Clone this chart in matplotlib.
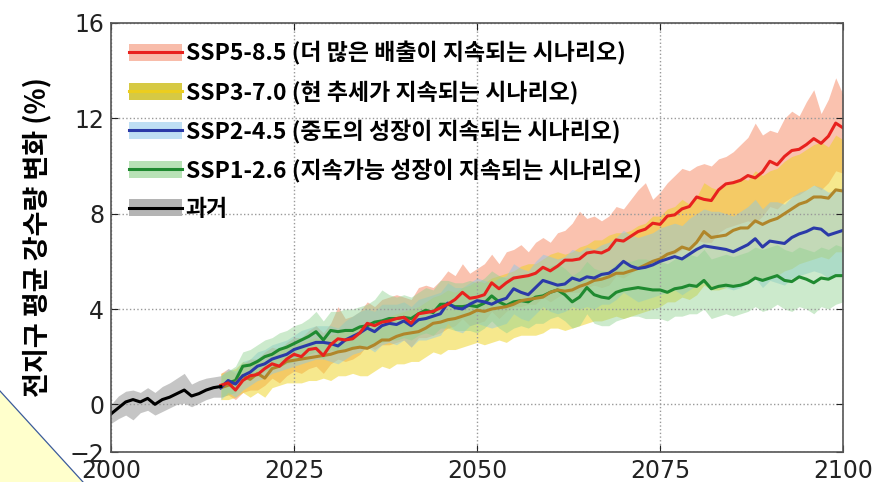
import numpy as np
import matplotlib
matplotlib.use("Agg")
import matplotlib.pyplot as plt
from matplotlib.patches import Patch, Polygon
from matplotlib.lines import Line2D

plt.rcParams['font.family'] = ['Noto Sans CJK KR', 'DejaVu Sans']

# ---- data -------------------------------------------------------------
hist_years = list(range(2000, 2016))
hist_mean = [-0.4, -0.15, 0.1, 0.2, 0.1, 0.25, 0.0, 0.2, 0.3, 0.45,
             0.6, 0.35, 0.45, 0.6, 0.7, 0.75]
hist_lo = [-0.8, -0.6, -0.45, -0.65, -0.35, -0.25, -0.45, -0.3, -0.15, 0.0,
           0.05, -0.1, 0.05, 0.2, 0.3, 0.3]
hist_hi = [0.0, 0.35, 0.55, 0.6, 0.5, 0.7, 0.5, 0.75, 0.9, 1.1,
           1.3, 0.85, 1.0, 1.1, 1.15, 1.2]

years = list(range(2015, 2101))

ssp585_mean = [0.8, 0.9, 0.6, 1.0, 1.2, 1.25, 1.5, 1.7, 1.6, 1.9,
               2.1, 2.0, 2.3, 2.35, 2.05, 2.5, 2.75, 2.7, 2.75, 3.0,
               3.4, 3.3, 3.45, 3.5, 3.6, 3.65, 3.4, 3.8, 3.85, 3.9,
               4.05, 4.2, 4.4, 4.7, 4.45, 4.5, 4.6, 5.1, 4.85, 5.1,
               5.3, 5.35, 5.4, 5.5, 5.75, 5.6, 5.8, 6.05, 6.05, 6.1,
               6.35, 6.4, 6.35, 6.5, 6.9, 6.85, 7.05, 7.25, 7.35, 7.6,
               7.55, 7.9, 7.95, 8.2, 8.3, 8.7, 8.6, 8.55, 9.0, 9.25,
               9.3, 9.4, 9.6, 9.5, 9.75, 10.2, 10.05, 10.4, 10.65, 10.7,
               10.9, 11.15, 10.95, 11.25, 11.8, 11.6]
ssp585_lo = [0.3, 0.4, 0.2, 0.5, 0.6, 0.6, 0.8, 1.1, 0.9, 1.2,
             1.4, 1.3, 1.5, 1.6, 1.3, 1.7, 1.9, 1.8, 1.9, 2.1,
             2.5, 2.3, 2.5, 2.5, 2.6, 2.7, 2.4, 2.8, 2.8, 2.9,
             3.0, 3.2, 3.3, 3.6, 3.3, 3.4, 3.5, 3.9, 3.6, 3.9,
             4.1, 4.1, 4.2, 4.2, 4.5, 4.3, 4.5, 4.7, 4.7, 4.7,
             4.9, 5.0, 4.9, 5.0, 5.4, 5.3, 5.5, 5.7, 5.7, 6.0,
             5.9, 6.2, 6.3, 6.5, 6.6, 6.9, 6.8, 6.8, 7.2, 7.4,
             7.5, 7.6, 7.7, 7.6, 7.9, 8.3, 8.2, 8.5, 8.7, 8.8,
             9.0, 9.2, 9.0, 9.3, 9.8, 9.7]
ssp585_hi = [1.3, 1.5, 1.3, 1.7, 1.9, 1.9, 2.2, 2.4, 2.3, 2.6,
             2.8, 2.8, 3.1, 3.3, 3.0, 3.4, 4.1, 3.6, 3.7, 3.9,
             4.3, 4.1, 4.4, 4.5, 4.6, 4.5, 4.4, 4.9, 5.0, 4.9,
             5.2, 5.6, 5.4, 5.9, 5.5, 5.7, 5.9, 6.3, 5.9, 6.4,
             6.5, 6.7, 6.4, 6.8, 7.0, 6.8, 7.2, 7.3, 7.6, 8.1,
             7.8, 7.9, 7.7, 7.9, 8.3, 8.2, 8.6, 9.0, 9.3, 8.6,
             8.9, 9.3, 9.6, 9.9, 9.8, 10.0, 10.1, 10.0, 10.3, 10.4,
             10.6, 10.9, 11.2, 11.8, 11.3, 11.5, 11.4, 12.0, 12.3, 12.1,
             12.7, 13.2, 12.2, 12.8, 13.7, 13.0]

ssp370_mean = [0.7, 0.8, 0.9, 1.2, 1.05, 1.3, 1.1, 1.5, 1.6, 1.8,
               1.85, 1.9, 1.95, 2.0, 2.05, 2.1, 2.2, 2.25, 2.35, 2.4,
               2.35, 2.5, 2.7, 2.7, 2.85, 2.95, 3.0, 3.05, 3.2, 3.4,
               3.45, 3.55, 3.6, 3.7, 3.8, 3.95, 3.9, 4.0, 4.05, 4.1,
               4.2, 4.35, 4.4, 4.45, 4.5, 4.7, 4.8, 4.75, 4.8, 4.95,
               5.05, 5.2, 5.25, 5.35, 5.5, 5.5, 5.6, 5.7, 5.85, 6.0,
               6.1, 6.3, 6.4, 6.6, 6.5, 6.8, 7.25, 7.0, 7.05, 7.1,
               7.3, 7.4, 7.4, 7.7, 7.55, 7.7, 7.8, 8.0, 8.2, 8.4,
               8.5, 8.7, 8.7, 8.65, 9.0, 8.95]
ssp370_lo = [0.2, 0.2, 0.3, 0.5, 0.3, 0.5, 0.3, 0.7, 0.8, 0.9,
             0.9, 0.9, 1.0, 1.0, 1.1, 1.0, 1.2, 1.2, 1.3, 1.2,
             1.2, 1.4, 1.6, 1.5, 1.7, 1.7, 1.8, 1.8, 2.0, 2.2,
             2.1, 2.3, 2.3, 2.4, 2.5, 2.6, 2.5, 2.6, 2.7, 2.6,
             2.8, 2.9, 2.9, 2.9, 3.0, 3.2, 3.2, 3.1, 3.2, 3.3,
             3.4, 3.5, 3.5, 3.6, 3.7, 3.6, 3.7, 3.8, 3.9, 4.0,
             4.1, 4.3, 4.3, 4.5, 4.4, 4.6, 5.0, 4.8, 4.8, 4.9,
             5.0, 5.1, 5.1, 5.3, 5.2, 5.3, 5.4, 5.6, 5.7, 5.9,
             6.0, 6.1, 6.2, 6.1, 6.4, 6.4]
ssp370_hi = [1.3, 1.4, 1.5, 1.8, 1.7, 1.9, 1.8, 2.1, 2.3, 2.4,
             2.5, 2.6, 2.7, 2.8, 2.7, 2.9, 3.0, 3.1, 3.2, 3.3,
             3.3, 3.5, 3.6, 3.7, 3.8, 3.9, 4.0, 4.1, 4.3, 4.5,
             4.6, 4.8, 4.7, 4.9, 5.0, 5.2, 5.1, 5.3, 5.4, 5.5,
             5.6, 5.8, 5.9, 5.9, 6.1, 6.3, 6.4, 6.3, 6.4, 6.6,
             6.7, 6.9, 6.9, 7.1, 7.2, 7.2, 7.3, 7.5, 7.6, 7.9,
             7.9, 8.2, 8.3, 8.6, 8.4, 8.7, 9.3, 9.1, 9.0, 9.2,
             9.4, 9.5, 9.4, 9.8, 9.6, 9.8, 9.9, 10.2, 10.4, 10.5,
             10.7, 10.9, 11.0, 10.8, 11.3, 11.1]

ssp245_mean = [0.7, 1.0, 0.85, 1.2, 1.35, 1.6, 1.7, 1.9, 2.0, 2.1,
               2.3, 2.4, 2.5, 2.6, 2.6, 2.55, 2.45, 2.7, 2.85, 3.0,
               3.2, 3.05, 3.3, 3.4, 3.35, 3.5, 3.3, 3.55, 3.6, 3.7,
               3.8, 4.25, 4.05, 4.0, 4.2, 4.35, 4.3, 4.2, 4.35, 4.45,
               4.85, 4.7, 4.6, 4.9, 5.2, 5.1, 5.0, 5.05, 5.3, 5.2,
               5.35, 5.3, 5.45, 5.5, 5.7, 6.0, 5.8, 5.7, 5.75, 5.85,
               6.0, 6.1, 6.2, 6.1, 6.3, 6.5, 6.65, 6.6, 6.55, 6.5,
               6.4, 6.55, 6.7, 6.95, 6.6, 6.85, 6.8, 6.75, 7.0, 7.15,
               7.25, 7.4, 7.35, 7.1, 7.2, 7.3]
ssp245_lo = [0.2, 0.5, 0.3, 0.6, 0.8, 1.0, 1.1, 1.3, 1.4, 1.5,
             1.6, 1.7, 1.8, 1.9, 1.9, 1.8, 1.7, 1.9, 2.1, 2.2,
             2.4, 2.2, 2.5, 2.6, 2.5, 2.7, 2.4, 2.7, 2.7, 2.8,
             2.9, 3.4, 3.1, 3.0, 3.3, 3.4, 3.3, 3.2, 3.3, 3.4,
             3.8, 3.6, 3.5, 3.8, 4.1, 3.9, 3.8, 3.9, 4.1, 4.0,
             4.1, 4.0, 4.2, 4.2, 4.4, 4.7, 4.5, 4.3, 4.4, 4.5,
             4.6, 4.7, 4.8, 4.6, 4.8, 5.0, 5.1, 5.0, 4.9, 4.9,
             4.8, 4.9, 5.1, 5.3, 4.9, 5.2, 5.1, 5.0, 5.3, 5.4,
             5.5, 5.6, 5.5, 5.3, 5.4, 5.5]
ssp245_hi = [1.2, 1.5, 1.4, 1.8, 1.9, 2.2, 2.3, 2.5, 2.6, 2.7,
             2.9, 3.1, 3.2, 3.3, 3.3, 3.3, 3.2, 3.5, 3.7, 3.9,
             4.0, 3.9, 4.2, 4.2, 4.2, 4.3, 4.1, 4.4, 4.5, 4.6,
             4.7, 5.1, 4.9, 4.9, 5.1, 5.3, 5.2, 5.1, 5.3, 5.4,
             5.9, 5.7, 5.6, 6.0, 6.3, 6.2, 6.1, 6.2, 6.5, 6.4,
             6.6, 6.5, 6.7, 6.8, 7.0, 7.3, 7.1, 7.0, 7.1, 7.2,
             7.4, 7.5, 7.6, 7.5, 7.8, 8.0, 8.2, 8.1, 8.1, 8.0,
             7.9, 8.1, 8.3, 8.6, 8.2, 8.5, 8.5, 8.4, 8.7, 8.9,
             9.0, 9.2, 9.1, 8.9, 9.0, 9.1]

ssp126_mean = [0.7, 0.9, 1.0, 1.6, 1.65, 1.8, 2.0, 2.1, 2.3, 2.4,
               2.55, 2.7, 2.85, 3.05, 2.7, 3.1, 3.05, 3.1, 3.1, 3.25,
               3.3, 3.45, 3.5, 3.6, 3.6, 3.65, 3.6, 3.8, 3.95, 3.85,
               4.2, 4.2, 4.1, 4.1, 4.15, 4.1, 4.25, 4.55, 4.3, 4.15,
               4.3, 4.35, 4.3, 4.5, 4.55, 4.7, 4.8, 4.6, 4.3, 4.5,
               4.9, 4.6, 4.5, 4.45, 4.7, 4.8, 4.85, 4.9, 4.85, 4.8,
               4.8, 4.7, 4.85, 4.9, 5.0, 4.95, 5.2, 4.85, 4.95, 5.0,
               4.95, 5.0, 5.1, 5.3, 5.2, 5.3, 5.4, 5.2, 5.15, 5.35,
               5.25, 5.1, 5.3, 5.25, 5.4, 5.4]
ssp126_lo = [0.3, 0.4, 0.5, 1.0, 1.1, 1.2, 1.4, 1.5, 1.6, 1.7,
             1.8, 1.9, 2.1, 2.2, 1.9, 2.3, 2.2, 2.3, 2.3, 2.4,
             2.4, 2.6, 2.6, 2.7, 2.7, 2.8, 2.7, 2.9, 3.0, 2.9,
             3.2, 3.2, 3.1, 3.1, 3.1, 3.0, 3.2, 3.5, 3.2, 3.0,
             3.2, 3.3, 3.2, 3.4, 3.4, 3.6, 3.7, 3.5, 3.2, 3.3,
             3.8, 3.4, 3.3, 3.3, 3.5, 3.6, 3.7, 3.7, 3.6, 3.6,
             3.6, 3.5, 3.7, 3.7, 3.8, 3.8, 4.0, 3.6, 3.7, 3.8,
             3.7, 3.8, 3.9, 4.1, 3.9, 4.0, 4.2, 4.0, 3.9, 4.1,
             4.0, 3.8, 4.1, 4.0, 4.2, 4.3]
ssp126_hi = [1.2, 1.4, 1.6, 2.2, 2.3, 2.5, 2.7, 2.8, 3.0, 3.1,
             3.3, 3.4, 3.6, 3.9, 3.5, 3.9, 3.9, 4.0, 4.0, 4.1,
             4.2, 4.4, 4.8, 4.6, 4.5, 4.6, 4.5, 4.7, 4.9, 4.8,
             5.2, 5.2, 5.1, 5.1, 5.2, 5.1, 5.3, 5.6, 5.4, 5.3,
             5.4, 5.4, 5.4, 5.6, 5.7, 5.8, 5.9, 5.7, 5.4, 5.6,
             6.0, 5.7, 5.6, 5.6, 5.9, 6.0, 6.0, 6.1, 6.1, 6.0,
             6.0, 5.9, 6.1, 6.2, 6.3, 6.2, 6.5, 6.1, 6.2, 6.3,
             6.2, 6.3, 6.4, 6.6, 6.5, 6.6, 6.7, 6.5, 6.4, 6.6,
             6.5, 6.4, 6.6, 6.5, 6.7, 6.6]

labels = ['SSP5-8.5 (더 많은 배출이 지속되는 시나리오)',
          'SSP3-7.0 (현 추세가 지속되는 시나리오)',
          'SSP2-4.5 (중도의 성장이 지속되는 시나리오)',
          'SSP1-2.6 (지속가능 성장이 지속되는 시나리오)',
          '과거']

# ---- figure -----------------------------------------------------------
fig = plt.figure(figsize=(8.89, 4.82), dpi=100)
ax = fig.add_axes([0.1249, 0.0622, 0.8234, 0.8901])

# shaded ranges
ax.fill_between(hist_years, hist_lo, hist_hi, color='#8c8c8c', alpha=0.5, lw=0)
ax.fill_between(years, ssp585_lo, ssp585_hi, color='#f7906e', alpha=0.55, lw=0)
ax.fill_between(years, ssp370_lo, ssp370_hi, color='#efd21c', alpha=0.5, lw=0)
ax.fill_between(years, ssp245_lo, ssp245_hi, color='#86c8ec', alpha=0.45, lw=0)
ax.fill_between(years, ssp126_lo, ssp126_hi, color='#8ed28e', alpha=0.45, lw=0)

# ensemble means
lw = 2.2
ax.plot(years, ssp126_mean, color='#1f8a30', lw=lw)
ax.plot(years, ssp370_mean, color='#b0862a', lw=lw)
ax.plot(years, ssp245_mean, color='#2b3aa8', lw=lw)
ax.plot(years, ssp585_mean, color='#e8221e', lw=lw)
ax.plot(hist_years, hist_mean, color='black', lw=lw)

ax.set_xlim(2000, 2100)
ax.set_ylim(-2, 16)
ax.set_xticks([2000, 2025, 2050, 2075, 2100])
ax.set_yticks([-2, 0, 4, 8, 12, 16])
ax.tick_params(direction='in', top=True, right=True, length=5,
               labelsize=17, colors='#222222', pad=5)
for lab in ax.get_xticklabels() + ax.get_yticklabels():
    lab.set_family('DejaVu Sans')
ax.grid(True, linestyle=':', color='#999999', lw=1.0)
for sp in ax.spines.values():
    sp.set_color('#555555')
    sp.set_linewidth(1.2)

ax.set_ylabel('전지구 평균 강수량 변화 (%)', fontsize=19.5, fontweight='bold',
              labelpad=13)

# legend: a shaded patch with the line on top
handles = [
    (Patch(facecolor='#f8bcaa', edgecolor='none'), Line2D([], [], color='#e8221e', lw=2.2)),
    (Patch(facecolor='#d6c944', edgecolor='none'), Line2D([], [], color='#eccd1e', lw=2.2)),
    (Patch(facecolor='#bfdff4', edgecolor='none'), Line2D([], [], color='#2b3aa8', lw=2.2)),
    (Patch(facecolor='#b8e2b6', edgecolor='none'), Line2D([], [], color='#1f8a30', lw=2.2)),
    (Patch(facecolor='#b4b4b4', edgecolor='none'), Line2D([], [], color='black', lw=2.2)),
]
leg = ax.legend(handles, labels, loc='upper left', frameon=False,
                prop={'size': 16.5, 'weight': 'bold'},
                handlelength=2.3, handleheight=0.75, handletextpad=0.15,
                labelspacing=0.66, borderaxespad=0.5, borderpad=0.3)

# folded corner in the lower left
corner = Polygon([(0, 1 - 391 / 482), (83 / 889, 0), (0, 0)], closed=True,
                 transform=fig.transFigure, facecolor='#ffffcc',
                 edgecolor='none', zorder=10)
fig.add_artist(corner)
fig.add_artist(Line2D([0, 83 / 889], [1 - 391 / 482, 0], transform=fig.transFigure,
                      color='#3b5b9b', lw=0.9, zorder=11))

fig.savefig('out.png', dpi=100)
